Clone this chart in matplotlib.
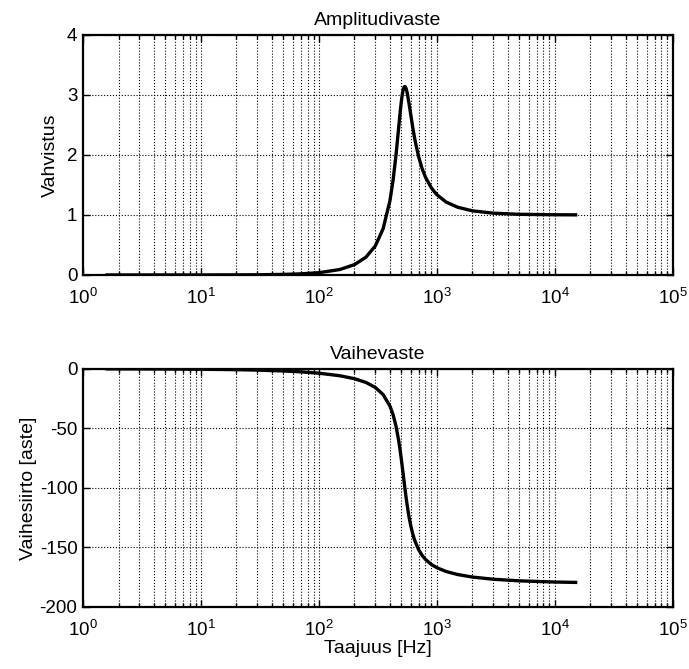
"""
Bode plot: amplitude and phase response (Amplitudivaste / Vaihevaste).
"""
import numpy as np
import matplotlib
matplotlib.use('Agg')
import matplotlib.pyplot as plt
from matplotlib.ticker import LogLocator, LogFormatterMathtext, NullFormatter

# Values
freq_hz = [1.6, 2, 3, 5, 7, 10, 20, 30, 50, 70, 100, 150, 200, 250, 300, 350, 400,
           425, 450, 475, 490, 500, 510, 520, 530, 540, 550, 560, 580, 600, 625,
           650, 700, 750, 800, 900, 1000, 1200, 1500, 2000, 3000, 5000, 10000, 15000]
gain = [0.0, 0.0, 0.0, 0.0001, 0.0002, 0.0004, 0.0015, 0.0033, 0.0093, 0.018, 0.038,
        0.090, 0.172, 0.295, 0.481, 0.770, 1.238, 1.576, 1.995, 2.469, 2.741, 2.897,
        3.019, 3.100, 3.138, 3.134, 3.097, 3.033, 2.861, 2.672, 2.449, 2.258, 1.968,
        1.769, 1.628, 1.446, 1.336, 1.213, 1.128, 1.068, 1.029, 1.010, 1.003, 1.001]
phase_deg = [-0.06, -0.07, -0.11, -0.18, -0.25, -0.36, -0.71, -1.07, -1.79, -2.52,
             -3.68, -5.80, -8.29, -11.40, -15.59, -21.65, -31.29, -38.46, -48.03,
             -60.68, -69.77, -76.34, -83.13, -90.0, -96.74, -103.17, -109.18, -114.70,
             -124.15, -131.67, -138.91, -144.37, -151.86, -156.70, -160.05, -164.37,
             -167.05, -170.23, -172.76, -174.86, -176.70, -178.06, -179.04, -179.36]

gain_ticks = [0, 1, 2, 3, 4]
phase_ticks = [0, -50, -100, -150, -200]

TICK_FS = 13.5
LABEL_FS = 14

plt.rcParams['font.family'] = ['Liberation Sans', 'DejaVu Sans']
plt.rcParams['mathtext.default'] = 'regular'
plt.rcParams['axes.unicode_minus'] = False

fig = plt.figure(figsize=(6.89, 6.69), dpi=100)
ax_amp = fig.add_axes([0.1205, 0.589, 0.856, 0.359])
ax_ph = fig.add_axes([0.1205, 0.0927, 0.856, 0.356])


def style_axis(ax, yticks):
    ax.set_xscale('log')
    ax.set_xlim(1, 1e5)
    ax.set_ylim(min(yticks), max(yticks))
    ax.set_yticks(yticks)
    ax.xaxis.set_major_locator(LogLocator(base=10, numticks=10))
    ax.xaxis.set_major_formatter(LogFormatterMathtext())
    ax.xaxis.set_minor_locator(LogLocator(base=10, subs=np.arange(2, 10), numticks=10))
    ax.xaxis.set_minor_formatter(NullFormatter())
    ax.grid(True, which='both', axis='x', color='black', linestyle=':', linewidth=0.8)
    ax.grid(True, which='major', axis='y', color='black', linestyle=':', linewidth=0.8)
    ax.tick_params(which='both', direction='in', top=True, right=True,
                   labelsize=TICK_FS, width=1.0, colors='black')
    ax.tick_params(which='major', length=5)
    ax.tick_params(axis='y', which='major', pad=4)
    ax.tick_params(axis='x', which='major', pad=9)
    ax.tick_params(which='minor', length=3)
    for sp in ax.spines.values():
        sp.set_linewidth(1.6)
        sp.set_color('black')


ax_amp.plot(freq_hz, gain, color='black', linewidth=2.4)
style_axis(ax_amp, gain_ticks)
ax_amp.set_title('Amplitudivaste', fontsize=LABEL_FS, pad=7)
ax_amp.set_ylabel('Vahvistus', fontsize=LABEL_FS, labelpad=6)

ax_ph.plot(freq_hz, phase_deg, color='black', linewidth=2.4)
style_axis(ax_ph, phase_ticks)
ax_ph.set_title('Vaihevaste', fontsize=LABEL_FS, pad=7)
ax_ph.set_ylabel('Vaihesiirto [aste]', fontsize=LABEL_FS, labelpad=2)
ax_ph.set_xlabel('Taajuus [Hz]', fontsize=LABEL_FS, labelpad=0)

fig.savefig('out.png', dpi=100)
